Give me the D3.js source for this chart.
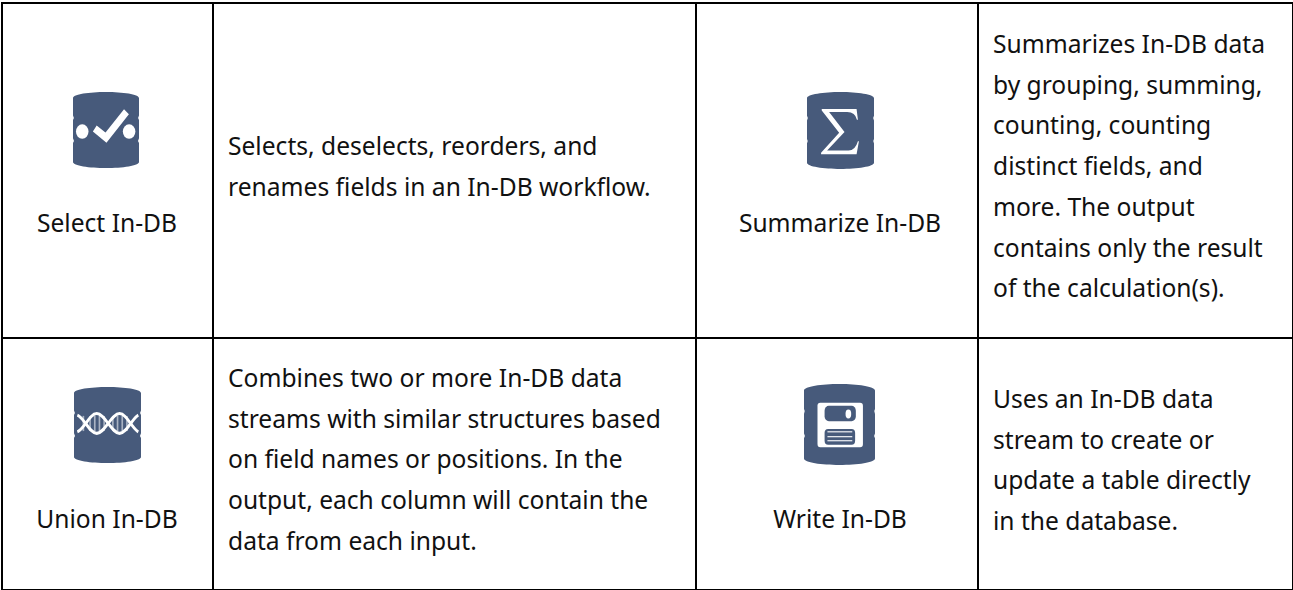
<!DOCTYPE html>
<html>
<head>
<meta charset="utf-8">
<script src="https://cdn.jsdelivr.net/npm/d3@7"></script>
<style>
    html, body { margin: 0; padding: 0; background: #fff; }
    svg { display: block; }
    text { font-family: "Noto Sans", "Open Sans", sans-serif; font-size: 24.6px; fill: #111; }
</style>
</head>
<body>
<svg id="drawing_region"></svg>
<script>
const tools = ["Select In-DB", "Summarize In-DB", "Union In-DB", "Write In-DB"];
const icons = ["check", "sigma", "dna", "disk"];
const descriptions = [
    ["Selects, deselects, reorders, and", "renames fields in an In-DB workflow."],
    ["Summarizes In-DB data", "by grouping, summing,", "counting, counting", "distinct fields, and", "more. The output", "contains only the result", "of the calculation(s)."],
    ["Combines two or more In-DB data", "streams with similar structures based", "on field names or positions. In the", "output, each column will contain the", "data from each input."],
    ["Uses an In-DB data", "stream to create or", "update a table directly", "in the database."]
];

const width = 1293, height = 590;
const navy = "#475a7b";
const lineHeight = 40.7;

const svg = d3.select("#drawing_region").attr("width", width).attr("height", height);

// column and row edges of the table
const colX = [2, 213, 696, 978, 1293];
const rowY = [3, 338, 590];

svg.selectAll("line.v").data(colX).enter().append("line")
    .attr("class", "v")
    .attr("x1", d => d).attr("x2", d => d)
    .attr("y1", 2).attr("y2", 590)
    .attr("stroke", "#000").attr("stroke-width", 2);

svg.selectAll("line.h").data(rowY).enter().append("line")
    .attr("class", "h")
    .attr("y1", d => d).attr("y2", d => d)
    .attr("x1", 1).attr("x2", 1293)
    .attr("stroke", "#000").attr("stroke-width", 2);

// barrel body with the two little side notches, 100 x 100 box
const barrel = "M0,8 C0,3 25,0 50,0 C75,0 100,3 100,8 L100,31 Q97.5,34 100,37 L100,61 Q97.5,64 100,67 L100,92 C100,97 75,100 50,100 C25,100 0,97 0,92 L0,67 Q2.5,64 0,61 L0,37 Q2.5,34 0,31 Z";

const glyphs = {
    check: g => {
        g.append("circle").attr("cx", 14).attr("cy", 52).attr("r", 9.5).attr("fill", "#fff");
        g.append("circle").attr("cx", 85).attr("cy", 52).attr("r", 9.5).attr("fill", "#fff");
        g.append("path").attr("d", "M33,48 L50,60 L81,26").attr("fill", "none")
            .attr("stroke", "#fff").attr("stroke-width", 10);
    },
    sigma: g => {
        g.append("path").attr("fill", "#fff")
            .attr("d", "M22,22 L74,22 L76,36 L74.5,36 Q72,26 60,26 L33,26 L56,52 L30,76 L62,76 Q72,76 76,64 L77.5,64 L74,81 L21,81 L21,79 L48,53 L22,24 Z");
    },
    dna: g => {
        [14, 24, 31, 38, 45, 58, 65, 72, 79].forEach(x => {
            g.append("line").attr("x1", x).attr("x2", x).attr("y1", 38).attr("y2", 58)
                .attr("stroke", "#aab3c3").attr("stroke-width", 2.5);
        });
        const strandA = "M5,37 C10,39 13,43 17.5,48 C23,55 28,61 34,61 C40,61 45,55 51,48 C57,41 62,35 68,35 C74,35 79,41 84.5,48 C89,53 92,57 96,59";
        const strandB = "M5,59 C10,57 13,53 17.5,48 C23,41 28,35 34,35 C40,35 45,41 51,48 C57,55 62,61 68,61 C74,61 79,55 84.5,48 C89,43 92,39 96,37";
        [strandA, strandB].forEach(d => {
            g.append("path").attr("d", d)
                .attr("fill", "none").attr("stroke", "#fff").attr("stroke-width", 4);
        });
    },
    disk: g => {
        g.append("rect").attr("x", 19).attr("y", 23).attr("width", 64).attr("height", 55).attr("rx", 4).attr("fill", "#fff");
        g.append("rect").attr("x", 29).attr("y", 27).attr("width", 44).attr("height", 19).attr("rx", 6).attr("fill", navy);
        g.append("ellipse").attr("cx", 62.5).attr("cy", 37).attr("rx", 4).attr("ry", 5.5).attr("fill", "#fff");
        g.append("rect").attr("x", 29).attr("y", 55.5).attr("width", 43).attr("height", 19.5).attr("rx", 5).attr("fill", navy);
        [59, 65, 70].forEach(y => {
            g.append("line").attr("x1", 33).attr("x2", 68).attr("y1", y).attr("y2", y)
                .attr("stroke", "#e3e6ec").attr("stroke-width", 1.6);
        });
    }
};

const iconBox = [
    { x: 73, y: 92, w: 66, h: 76 },
    { x: 807, y: 92, w: 67, h: 77 },
    { x: 74, y: 387, w: 67, h: 76 },
    { x: 804, y: 384, w: 71, h: 81 }
];

const labelY = [232, 232, 528, 528];
const labelX = [107, 840, 107, 840];
const descX = [228, 993, 228, 993];
const descTop = [155, 53, 387, 408];

tools.forEach((name, i) => {
    const box = iconBox[i];
    const g = svg.append("g")
        .attr("transform", `translate(${box.x},${box.y}) scale(${box.w / 100},${box.h / 100})`);
    g.append("path").attr("d", barrel).attr("fill", navy);
    glyphs[icons[i]](g);

    svg.append("text")
        .attr("x", labelX[i]).attr("y", labelY[i])
        .attr("text-anchor", "middle")
        .text(name);

    svg.append("g").selectAll("text")
        .data(descriptions[i])
        .enter()
        .append("text")
        .attr("x", descX[i])
        .attr("y", (d, j) => descTop[i] + j * lineHeight)
        .text(d => d);
});
</script>
</body>
</html>
